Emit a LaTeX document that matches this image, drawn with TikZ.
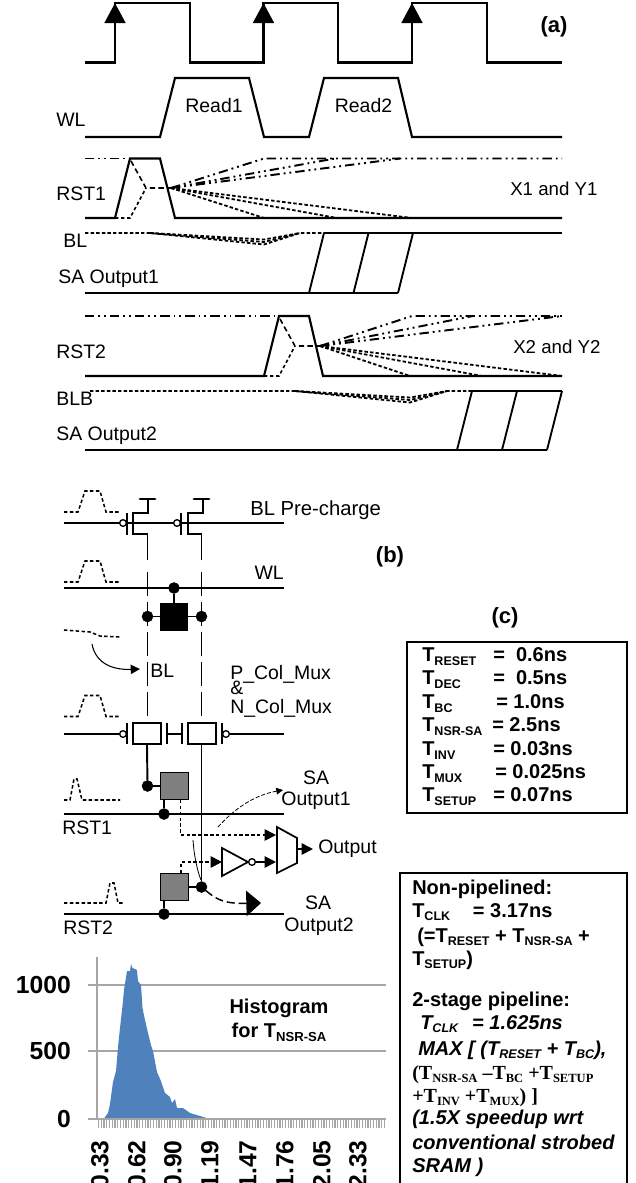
\documentclass[tikz,border=0pt]{standalone}
\usepackage{fontspec}
\setmainfont{Liberation Sans}
\newfontfamily\timesf{Liberation Serif}
\usetikzlibrary{arrows.meta}
\definecolor{gridgray}{HTML}{A6A6A6}
\definecolor{histblue}{HTML}{4F81BD}
\definecolor{boxgray}{HTML}{7F7F7F}
\newcommand{\sbt}[1]{\raisebox{-0.2em}{\fontsize{9.4}{10}\selectfont #1}}
\newcommand{\sbs}[1]{\raisebox{-0.15em}{\fontsize{9.4}{10}\selectfont #1}}
\tikzset{
  wave/.style={line width=1.6pt,line join=miter},
  sdash/.style={line width=1.35pt,dash pattern=on 2.6pt off 1.6pt},
  ddot/.style={line width=1.45pt,dash pattern=on 7pt off 3pt on 1.4pt off 3pt on 1.4pt off 3pt},
  lab/.style={font=\fontsize{14.6}{16}\selectfont,inner sep=0pt,anchor=west},
  clab/.style={font=\fontsize{14.6}{16}\selectfont,inner sep=0pt,anchor=center},
  boldlab/.style={font=\fontsize{15}{17}\selectfont\bfseries,inner sep=0pt,anchor=base west},
  itlab/.style={font=\fontsize{15}{17}\selectfont\bfseries\itshape,inner sep=0pt,anchor=base west},
  serlab/.style={font=\fontsize{15}{17}\selectfont\bfseries\timesf,inner sep=0pt,anchor=base west},
  histlab/.style={font=\fontsize{18.5}{20}\selectfont\bfseries,inner sep=0pt},
  histtxt/.style={font=\fontsize{15}{17}\selectfont\bfseries,inner sep=0pt},
  partlab/.style={font=\fontsize{16.5}{18}\selectfont\bfseries,inner sep=0pt},
  wire/.style={line width=1.45pt},
  bitl/.style={line width=1.45pt,dash pattern=on 18pt off 4.5pt},
  sig/.style={line width=1.15pt,dash pattern=on 2.6pt off 1.8pt},
  dot/.style={circle,fill=black,draw=black,inner sep=0pt,minimum size=8.2pt},
  bubble/.style={circle,fill=white,draw=black,line width=1pt,inner sep=0pt,minimum size=5pt},
  sabox/.style={rectangle,fill=boxgray,draw=black,line width=0.8pt,inner sep=0pt,minimum size=20.6pt},
  blackbox/.style={rectangle,fill=black,draw=black,inner sep=0pt,minimum size=20.6pt},
  muxbox/.style={rectangle,fill=white,draw=black,line width=1.5pt,inner sep=0pt,minimum width=20.6pt,minimum height=15.6pt},
  tip/.style={-{Triangle[length=8.5pt,width=8.5pt]}},
  frame/.style={line width=1.7pt},
  grid/.style={gridgray,line width=1.3pt},
}
\begin{document}
\begin{tikzpicture}[x=0.75pt,y=-0.75pt]
\useasboundingbox (0,0) rectangle (636,1183);
\clip (0,0) rectangle (636,1183);
\fill[white] (0,0) rectangle (636,1183);

% ---------- (a) timing ----------
\draw[wave] (85,62.5) -- (115,62.5) -- (115,3) -- (190,3) -- (190,62.5) -- (263.5,62.5) -- (263.5,3) -- (338,3) -- (338,62.5) -- (412,62.5) -- (412,3) -- (487,3) -- (487,62.5) -- (562,62.5);
\foreach \px in {115,263.5,412}
  \draw[line width=2pt,-{Triangle[length=15pt,width=15.5pt]}] (\px,62.5) -- (\px,3);
\node[partlab] (labA) at (554,27) {(a)};

\draw[wave] (85,137) -- (160,137) -- (175,78) -- (249,78) -- (264,137) -- (309,137) -- (324,78) -- (398,78) -- (412,137) -- (562,137);
\node[clab] (read1) at (214,106) {Read1};
\node[clab] (read2) at (363.5,106) {Read2};
\node[lab] (wl) at (56,120) {WL};

% RST1
\draw[wave] (85,218) -- (115,218) -- (130,158.5) -- (160,158.5) -- (175,218) -- (562,218);
\draw[ddot] (85,158.5) -- (125,158.5);
\draw[line width=1.2pt,dash pattern=on 4pt off 2.5pt] (131,161) -- (146,188) -- (171,188);
\draw[line width=1.2pt,dash pattern=on 2.5pt off 2pt] (115,218) -- (130,218) -- (146,188);
\draw[ddot] (171,188) -- (264,158.5) -- (562,158.5);
\draw[ddot] (171,188) -- (335,158.5);
\draw[ddot] (171,188) -- (400,158.5);
\draw[sdash] (171,188) -- (264,218);
\draw[sdash] (171,188) -- (337,218);
\draw[sdash] (171,188) -- (412,218);
\node[lab] (rst1a) at (56,194) {RST1};
\node[lab,font=\fontsize{14}{16}\selectfont] (xy1) at (510,189) {X1 and Y1};

% BL
\draw[sdash] (85,233) -- (150,233) -- (264,244.5) -- (300,233) -- (324,233);
\draw[sdash] (150,233) -- (264,242) -- (300,233);
\draw[sdash] (150,233) -- (264,239.5) -- (300,233);
\draw[wave] (324,233) -- (562,233);
\node[lab] (bla) at (63,241) {BL};

% SA output 1
\draw[wave] (85,293) -- (398,293);
\draw[wave,line width=1.4pt] (309,293) -- (324,233);
\draw[wave,line width=1.4pt] (353.5,293) -- (368.5,233);
\draw[wave,line width=1.4pt] (398,293) -- (413,233);
\node[lab] (sao1) at (58,279) {SA Output1};

% RST2
\draw[wave] (85,376) -- (264,376) -- (279,316) -- (309,316) -- (323,376) -- (562,376);
\draw[ddot] (85,316) -- (275,316);
\draw[line width=1.2pt,dash pattern=on 4pt off 2.5pt] (280,319) -- (295,346) -- (320,346);
\draw[line width=1.2pt,dash pattern=on 2.5pt off 2pt] (264,376) -- (279,376) -- (295,346);
\draw[ddot] (320,346) -- (412,316) -- (562,316);
\draw[ddot] (320,346) -- (473,316);
\draw[ddot] (320,346) -- (562,316);
\draw[sdash] (320,346) -- (410,376);
\draw[sdash] (320,346) -- (482,376);
\draw[sdash] (320,346) -- (562,376);
\node[lab] (rst2a) at (56,352) {RST2};
\node[lab,font=\fontsize{14}{16}\selectfont] (xy2) at (513,347) {X2 and Y2};

% BLB
\draw[sdash] (90,391) -- (295,391) -- (410,402.5) -- (447,391) -- (472,391);
\draw[sdash] (295,391) -- (410,400) -- (447,391);
\draw[sdash] (295,391) -- (410,397.5) -- (447,391);
\draw[wave] (472,391) -- (562,391);
\node[lab] (blb) at (56,399) {BLB};

% SA output 2
\draw[wave] (85,450) -- (547,450);
\draw[wave,line width=1.4pt] (457,450) -- (472,391);
\draw[wave,line width=1.4pt] (502,450) -- (517,391);
\draw[wave,line width=1.4pt] (547,450) -- (562,391);
\node[lab] (sao2) at (56,436) {SA Output2};

% ---------- (b) schematic ----------
\newcommand{\pulse}[1]{\draw[sig] (64,#1) -- (78,#1) -- (85,#1-21) -- (100,#1-21) -- (106,#1) -- (121,#1);}
\pulse{512}
\pulse{582}
\pulse{716.5}

% pre-charge
\coordinate (preL) at (64,523); \coordinate (preR) at (284,523);
\draw[wire] (preL) -- (preR);
\node[bubble] (pg1) at (123,523) {};
\node[bubble] (pg2) at (177,523) {};
\draw[wire] (127,513) -- (127,535);
\draw[wire] (181,513) -- (181,535);
\draw[wire] (133,512) -- (133,535);
\draw[wire] (188,512) -- (188,535);
\draw[wire] (133,513) -- (148,513) -- (148,499);
\draw[wire] (188,513) -- (203,513) -- (203,499);
\draw[line width=2.2pt,line cap=round] (140,499) -- (155,499);
\draw[line width=2.2pt,line cap=round] (194,499) -- (209,499);
\draw[wire] (133,534) -- (147.5,534) -- (147.5,560);
\draw[wire] (188,534) -- (201.5,534) -- (201.5,560);
\node[lab,font=\fontsize{15.2}{17}\selectfont] (blpre) at (250,510) {BL Pre-charge};
\node[partlab] (labB) at (390,557) {(b)};

% bit lines
\draw[bitl] (147.5,572) -- (147.5,723);
\draw[bitl] (201.5,572) -- (201.5,723);

% WL
\coordinate (wlL) at (64,588); \coordinate (wlR) at (284,588);
\draw[wire] (wlL) -- (wlR);
\node[inner sep=0pt,font=\fontsize{14.6}{16}\selectfont,anchor=east] (wlb) at (284,573) {WL};
\node[blackbox] (cell) at (174,616.5) {};
\node[dot] (dwl) at (174,588) {};
\node[dot] (dc1) at (147.5,616.5) {};
\node[dot] (dc2) at (201.5,616.5) {};
\draw[wire] (dwl) -- (cell);
\draw[wire] (dc1) -- (cell);
\draw[wire] (dc2) -- (cell);

% BL signal
\draw[sig] (64,630) -- (90,632) -- (100,636) -- (120,637);
\coordinate (blfrom) at (92,644);
\node[lab] (blb2) at (150,671) {BL};
\draw[line width=0.8pt,-{Triangle[length=7pt,width=7pt]}] (blfrom) .. controls (96,665) and (115,670) .. (140,669);
\node[lab] (pcol) at (230,674) {P\_Col\_Mux};
\node[lab] (amp) at (230,688) {\&};
\node[lab] (ncol) at (230,708) {N\_Col\_Mux};

% column mux
\node[muxbox] (mb1) at (147,733.5) {};
\node[muxbox] (mb2) at (202,733.5) {};
\draw[wire] (64,734) -- (120,734);
\node[bubble] (mg1) at (123,734) {};
\draw[wire] (127,723) -- (127,744);
\draw[wire] (222,723) -- (222,744);
\node[bubble] (mg2) at (226,734) {};
\draw[wire] (229,734) -- (284,734);
\draw[wire] (167,723) -- (167,744);
\draw[wire] (182,723) -- (182,744);
\draw[wire] (167,734) -- (182,734);

% sense amps
\node[sabox] (sa1) at (174.5,786) {};
\node[sabox] (sa2) at (174.5,887) {};
\node[dot] (d1) at (147.5,786) {};
\node[dot] (d2) at (201.5,887) {};
\node[dot] (r1) at (164,814) {};
\node[dot] (r2) at (164,914) {};
\draw[wire] (mb1.south) -- (d1);
\draw[wire] (d1) -- (sa1);
\draw[wire] (201.5,744) -- (d2);
\draw[wire] (d2) -- (sa2);
\draw[wire] (r1) -- (164,800);
\draw[wire] (r2) -- (164,901);
\draw[wire] (64,814) -- (284,814);
\draw[wire] (64,914) -- (284,914);
\node[lab] (rst1b) at (62,828) {RST1};
\node[lab] (rst2b) at (63,928) {RST2};
\draw[sig] (64,800) -- (70,800) -- (74,779) -- (77,779) -- (82,800) -- (120,800);
\draw[sig] (64,903) -- (106,903) -- (110,883) -- (114,883) -- (118,903) -- (124,903);

% output path
\draw[line width=1.3pt,fill=white] (277,827) -- (297,838) -- (297,863) -- (277,873) -- cycle;
\draw[line width=1.3pt,fill=white] (222,848) -- (222,876) -- (248,862) -- cycle;
\node[bubble] (ib) at (252,862) {};
\draw[sig,line width=1.3pt,tip] (180.5,800) -- (180.5,835) -- (276,835);
\draw[sig,line width=1.3pt,tip] (181,873) -- (181,862) -- (222,862);
\draw[line width=1.2pt,tip] (255,862) -- (276,862);
\draw[line width=1.2pt,tip] (297,849) -- (313,849);
\node[lab] (outp) at (318,849) {Output};
\draw[line width=0.6pt,dash pattern=on 3pt off 1.5pt,-{Triangle[length=5pt,width=5pt]}] (218,827) .. controls (235,808) and (255,795) .. (283,790);
\draw[line width=0.6pt] (193,840) .. controls (194,855) and (197,870) .. (201,880);
\draw[line width=1.1pt,dash pattern=on 6pt off 3pt,-{Triangle[length=11pt,width=19pt]}] (d2) .. controls (215,898) and (222,904) .. (261,903);
\node[clab] (saa) at (316,778) {SA};
\node[clab] (sab) at (316,801) {Output1};
\node[clab] (sac) at (318,903) {SA};
\node[clab] (sad) at (319,927) {Output2};

% ---------- (c) table ----------
\node[partlab] (labC) at (505,618) {(c)};
\node[draw=black,frame,inner sep=0pt,minimum width=165pt,minimum height=128.25pt] (tbl) at (517,727.5) {};
\node[boldlab] (c1) at (422,661) {T\sbt{RESET}}; \node[boldlab] (c1v) at (493,661) {=\ \ 0.6ns};
\node[boldlab] (c2) at (422,684.5) {T\sbt{DEC}}; \node[boldlab] (c2v) at (493,684.5) {=\ \ 0.5ns};
\node[boldlab] (c3) at (422,708) {T\sbt{BC}}; \node[boldlab] (c3v) at (496,708) {= 1.0ns};
\node[boldlab] (c4) at (422,731) {T\sbt{NSR-SA}}; \node[boldlab] (c4v) at (492,731) {= 2.5ns};
\node[boldlab] (c5) at (422,755) {T\sbt{INV}}; \node[boldlab] (c5v) at (493,755) {= 0.03ns};
\node[boldlab] (c6) at (422,778) {T\sbt{MUX}}; \node[boldlab] (c6v) at (495,778) {= 0.025ns};
\node[boldlab] (c7) at (422,801) {T\sbt{SETUP}}; \node[boldlab] (c7v) at (493,801) {= 0.07ns};

% ---------- pipeline box ----------
\draw[frame] (400,1190) -- (400,873) -- (627,873) -- (627,1190);
\node[boldlab] (p1) at (412,894) {Non-pipelined:};
\node[boldlab] (p2) at (412,917) {T\sbs{CLK}\hspace{17pt}= 3.17ns};
\node[boldlab] (p3) at (417,942) {(=T\sbs{RESET} + T\sbs{NSR-SA} +};
\node[boldlab] (p4) at (412,965) {T\sbs{SETUP})};
\node[boldlab] (p5) at (412,1006) {2-stage pipeline:};
\node[itlab] (p6) at (420,1029) {T\sbs{CLK}\hspace{10.5pt}= 1.625ns};
\node[itlab] (p7) at (418,1055) {MAX [ (T\sbs{RESET} + T\sbs{BC}),};
\node[serlab] (p8) at (412,1079) {(T\sbs{NSR-SA} –T\sbs{BC} +T\sbs{SETUP}};
\node[serlab] (p9) at (412,1102) {+T\sbs{INV} +T\sbs{MUX}) ]};
\node[itlab] (p10) at (412,1124) {(1.5X speedup wrt};
\node[itlab] (p11) at (412,1149) {conventional strobed};
\node[itlab] (p12) at (412,1172) {SRAM )};

% ---------- histogram ----------
\draw[grid] (88,985) -- (386,985);
\draw[grid] (88,1051) -- (386,1051);
\fill[histblue] (104,1119) -- (104,1118.5) -- (108,1113) -- (110,1104) -- (113,1082) -- (116,1071) -- (118,1047) -- (120,1028) -- (122.5,1006) -- (124,990) -- (127,971) -- (130,971) -- (131,964) -- (132.5,968) -- (137,970) -- (138,981) -- (141,985) -- (142.5,1008) -- (145,1020) -- (148,1033) -- (151,1045) -- (153,1051) -- (157,1072) -- (160.5,1080) -- (165,1093) -- (170,1097) -- (172,1103) -- (175,1099) -- (177,1108) -- (183,1108) -- (190,1113) -- (200,1116) -- (208,1118.5) -- (214,1119) -- cycle;
\draw[grid] (97,957) -- (97,1119);
\draw[grid] (88,1119) -- (386,1119);
\foreach \i in {0,...,104}
  \draw[gridgray,line width=0.9pt] ({98.5+2.75*\i},1119) -- ({98.5+2.75*\i},1128);
\node[histlab,anchor=east] (y1000) at (71,985) {1000};
\node[histlab,anchor=east] (y500) at (71,1051) {500};
\node[histlab,anchor=east] (y0) at (71,1119) {0};
\node[histlab,rotate=90,anchor=east] (x1) at (100,1140) {0.33};
\node[histlab,rotate=90,anchor=east] (x2) at (137,1140) {0.62};
\node[histlab,rotate=90,anchor=east] (x3) at (173,1140) {0.90};
\node[histlab,rotate=90,anchor=east] (x4) at (210,1140) {1.19};
\node[histlab,rotate=90,anchor=east] (x5) at (248,1140) {1.47};
\node[histlab,rotate=90,anchor=east] (x6) at (285,1140) {1.76};
\node[histlab,rotate=90,anchor=east] (x7) at (322,1140) {2.05};
\node[histlab,rotate=90,anchor=east] (x8) at (358,1140) {2.33};
\node[histtxt] (h1) at (279,1008) {Histogram};
\node[histtxt] (h2) at (279,1032) {for T{\raisebox{-0.2em}{\fontsize{9.8}{10}\selectfont NSR-SA}}};
\end{tikzpicture}
\end{document}
